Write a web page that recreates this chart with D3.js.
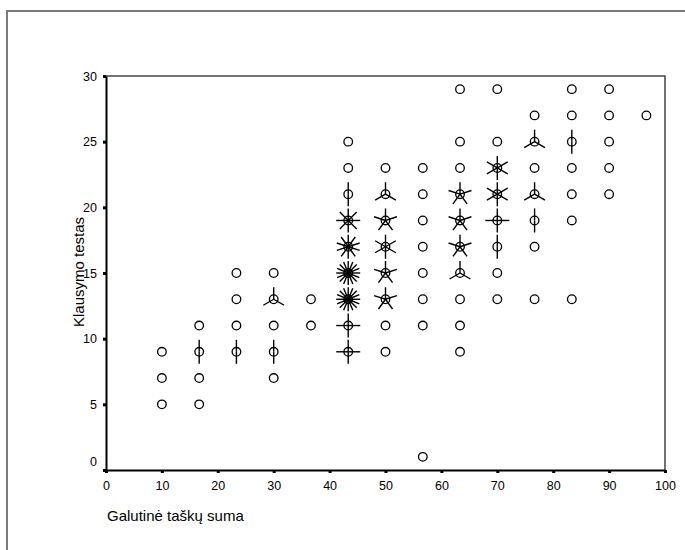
<!DOCTYPE html>
<html lang="en">
<head>
	<meta charset="UTF-8">
	<title>Sunflower plot</title>
</head>
<style>
	body { margin: 0; background: #fff; }
	svg text { font-family: "Liberation Sans", Arial, sans-serif; fill: #000; }
	.axis-title { font-size: 15px; }
</style>
<body>
<svg id="chart" width="685" height="550"></svg>
<script src="https://d3js.org/d3.v7.min.js"></script>
<script type="text/javascript">
	// data: x position, y value and number of cases (petals)
	var pointX = [
		10, 10, 10,
		16.67, 16.67, 16.67, 16.67,
		23.33, 23.33, 23.33, 23.33,
		30, 30, 30, 30, 30,
		36.67, 36.67,
		43.33, 43.33, 43.33, 43.33, 43.33, 43.33, 43.33, 43.33, 43.33,
		50, 50, 50, 50, 50, 50, 50, 50,
		56.67, 56.67, 56.67, 56.67, 56.67, 56.67, 56.67, 56.67,
		63.33, 63.33, 63.33, 63.33, 63.33, 63.33, 63.33, 63.33, 63.33, 63.33,
		70, 70, 70, 70, 70, 70, 70, 70,
		76.67, 76.67, 76.67, 76.67, 76.67, 76.67, 76.67,
		83.33, 83.33, 83.33, 83.33, 83.33, 83.33, 83.33,
		90, 90, 90, 90, 90,
		96.67
	];
	var pointY = [
		5, 7, 9,
		5, 7, 9, 11,
		9, 11, 13, 15,
		7, 9, 11, 13, 15,
		11, 13,
		9, 11, 13, 15, 17, 19, 21, 23, 25,
		9, 11, 13, 15, 17, 19, 21, 23,
		1, 11, 13, 15, 17, 19, 21, 23,
		9, 11, 13, 15, 17, 19, 21, 23, 25, 29,
		13, 15, 17, 19, 21, 23, 25, 29,
		13, 17, 19, 21, 23, 25, 27,
		13, 19, 21, 23, 25, 27, 29,
		21, 23, 25, 27, 29,
		27
	];
	var pointCount = [
		1, 1, 1,
		1, 1, 2, 1,
		2, 1, 1, 1,
		1, 2, 1, 3, 1,
		1, 1,
		4, 4, 16, 16, 10, 8, 2, 1, 1,
		1, 1, 5, 5, 6, 5, 3, 1,
		1, 1, 1, 1, 1, 1, 1, 1,
		1, 1, 1, 3, 5, 5, 5, 1, 1, 1,
		1, 1, 2, 4, 6, 6, 1, 1,
		1, 1, 2, 3, 1, 3, 1,
		1, 1, 1, 1, 2, 1, 1,
		1, 1, 1, 1, 1,
		1
	];
	var xTicks = [0, 10, 20, 30, 40, 50, 60, 70, 80, 90, 100];
	var yTicks = [0, 5, 10, 15, 20, 25, 30];
	var xTitle = "Galutinė taškų suma";
	var yTitle = "Klausymo testas";

	(function chart() {
		var svg = d3.select("#chart");
		var plotLeft = 106, plotRight = 665, plotTop = 76, plotBottom = 470;

		var x = d3.scaleLinear().domain([0, 100]).range([plotLeft, plotRight]);
		var y = d3.scaleLinear().domain([0, 30]).range([plotBottom, plotTop]);

		// outer frame
		svg.append("path")
			.attr("d", "M7,550 V11 H685")
			.attr("fill", "none")
			.attr("stroke", "#7a7a7a")
			.attr("stroke-width", 2);

		// top and right border of plot area
		svg.append("path")
			.attr("d", "M" + plotLeft + "," + plotTop + " H" + plotRight + " V" + plotBottom)
			.attr("fill", "none")
			.attr("stroke", "#444")
			.attr("stroke-width", 1.5);

		// axes
		var xAxis = d3.axisBottom(x).tickValues(xTicks).tickSize(0).tickPadding(11);
		var yAxis = d3.axisLeft(y).tickValues(yTicks).tickSize(0).tickPadding(9);

		var gx = svg.append("g").attr("transform", "translate(0," + plotBottom + ")").call(xAxis);
		var gy = svg.append("g").attr("transform", "translate(" + plotLeft + ",0)").call(yAxis);

		[gx, gy].forEach(function(g) {
			g.select(".domain").attr("stroke", "#000").attr("stroke-width", 2);
			g.selectAll(".tick text").attr("fill", "#000")
				.style("font-family", "'Liberation Sans', Arial, sans-serif").style("font-size", "12.5px");
		});
		// the zero label on the y axis sits a little above its tick
		gy.selectAll(".tick text").filter(function(d) { return d === 0; }).attr("dy", "-0.35em");

		// square tick marks
		gx.selectAll(".tick").append("rect")
			.attr("x", -1.5).attr("y", 0).attr("width", 3).attr("height", 3).attr("fill", "#000");
		gy.selectAll(".tick").append("rect")
			.attr("x", -3).attr("y", -1.5).attr("width", 3).attr("height", 3).attr("fill", "#000");

		// axis titles
		svg.append("text")
			.attr("class", "axis-title")
			.attr("x", 107)
			.attr("y", 521)
			.text(xTitle);

		svg.append("text")
			.attr("class", "axis-title")
			.attr("transform", "translate(84,272) rotate(-90)")
			.attr("text-anchor", "middle")
			.text(yTitle);

		// sunflowers
		var points = pointX.map(function(d, i) {
			return { x: d, y: pointY[i], n: pointCount[i] };
		});

		var flower = svg.append("g").selectAll("g")
			.data(points)
			.enter().append("g")
			.attr("transform", function(d) { return "translate(" + x(d.x) + "," + y(d.y) + ")"; });

		flower.append("circle")
			.attr("r", 4.3)
			.attr("fill", "none")
			.attr("stroke", "#000")
			.attr("stroke-width", 1.3);

		var petalLen = 12;
		flower.each(function(d) {
			if (d.n < 2) return;
			var g = d3.select(this);
			for (var k = 0; k < d.n; k++) {
				var a = -Math.PI / 2 + k * 2 * Math.PI / d.n;
				g.append("line")
					.attr("x1", 0).attr("y1", 0)
					.attr("x2", petalLen * Math.cos(a))
					.attr("y2", petalLen * Math.sin(a))
					.attr("stroke", "#000")
					.attr("stroke-width", 1.4);
			}
		});
	})();
</script>
</body>
</html>
